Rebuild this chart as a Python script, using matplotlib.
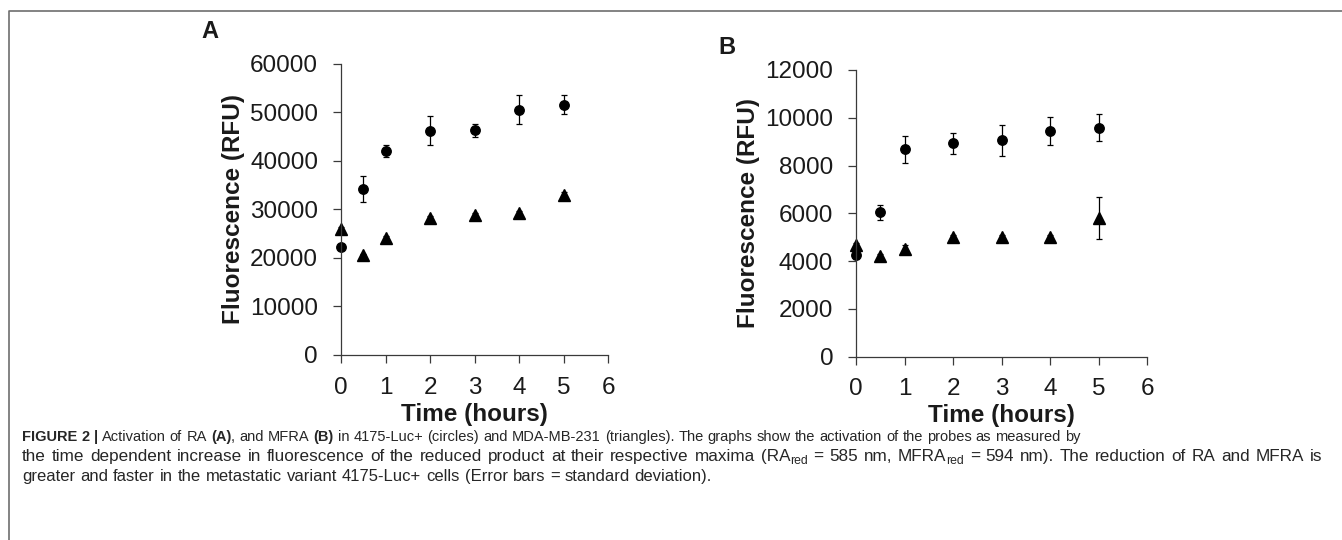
"""Fluorescence activation of RA / MFRA probes (Figure 2 recreation)."""

import matplotlib

matplotlib.use("Agg")
import matplotlib.pyplot as plt  # noqa: E402
from matplotlib import font_manager  # noqa: E402
from matplotlib.lines import Line2D  # noqa: E402

# ---- data ----
time_h = [0, 0.5, 1, 2, 3, 4, 5]

ra_circles = [22300, 34200, 42100, 46200, 46300, 50600, 51600]
ra_circles_sd = [600, 2700, 1200, 3000, 1400, 3000, 2000]
ra_triangles = [26000, 20600, 24200, 28200, 28900, 29200, 33000]
ra_triangles_sd = [300, 300, 400, 400, 400, 400, 700]

mfra_circles = [4250, 6040, 8680, 8930, 9060, 9460, 9590]
mfra_circles_sd = [150, 320, 560, 450, 650, 580, 560]
mfra_triangles = [4680, 4210, 4490, 5000, 5000, 5000, 5790]
mfra_triangles_sd = [80, 80, 200, 100, 100, 100, 880]

ra_yticks = [0, 10000, 20000, 30000, 40000, 50000, 60000]
mfra_yticks = [0, 2000, 4000, 6000, 8000, 10000, 12000]
x_ticks = [0, 1, 2, 3, 4, 5, 6]


def pick_font(names):
    for n in names:
        try:
            font_manager.findfont(n, fallback_to_default=False)
            return n
        except ValueError:
            continue
    return "DejaVu Sans"


SANS = pick_font(["Liberation Sans", "Arial", "DejaVu Sans"])
plt.rcParams["font.family"] = SANS

AX_COLOR = "#3a3a3a"
TXT = "#1a1a1a"


def panel(ax, circ, circ_sd, tri, tri_sd, yticks, ylim):
    ax.errorbar(time_h, circ, yerr=circ_sd, fmt="o", ms=6.8, color="black",
                ecolor="black", elinewidth=0.9, capsize=2.5, capthick=0.9)
    ax.errorbar(time_h, tri, yerr=tri_sd, fmt="^", ms=8.4, color="black",
                ecolor="black", elinewidth=0.9, capsize=2.5, capthick=0.9)
    ax.set_xlim(0, 6)
    ax.set_ylim(0, ylim)
    ax.set_xticks(x_ticks)
    ax.set_yticks(yticks)
    for s in ("top", "right"):
        ax.spines[s].set_visible(False)
    for s in ("left", "bottom"):
        ax.spines[s].set_color(AX_COLOR)
        ax.spines[s].set_linewidth(0.9)
    ax.tick_params(direction="out", length=5.5, width=0.9, color=AX_COLOR,
                   labelsize=17.5, labelcolor=TXT)
    ax.tick_params(axis="y", pad=11)
    ax.tick_params(axis="x", pad=10)
    ax.set_xlabel("Time (hours)", fontsize=17.5, fontweight="bold",
                  color=TXT, labelpad=3)
    ax.set_ylabel("Fluorescence (RFU)", fontsize=17.5, fontweight="bold",
                  color=TXT, labelpad=4)
    for artist in ax.get_children():
        artist.set_clip_on(False)


fig = plt.figure(figsize=(13.42, 5.40), dpi=100)

ax_a = fig.add_axes([0.2541, 0.3426, 0.1990, 0.5389])
panel(ax_a, ra_circles, ra_circles_sd, ra_triangles, ra_triangles_sd,
      ra_yticks, 60000)
ax_b = fig.add_axes([0.6379, 0.3394, 0.2168, 0.5310])
panel(ax_b, mfra_circles, mfra_circles_sd, mfra_triangles, mfra_triangles_sd,
      mfra_yticks, 12000)

fig.text(210 / 1342, 1 - 32 / 540, "A", fontsize=17, fontweight="bold",
         ha="center", va="center", color=TXT)
fig.text(727 / 1342, 1 - 47 / 540, "B", fontsize=17, fontweight="bold",
         ha="center", va="center", color=TXT)

# page frame (top and left rules)
fig.add_artist(Line2D([9 / 1342, 9 / 1342, 1.0], [0.0, 1 - 11 / 540, 1 - 11 / 540],
                      transform=fig.transFigure, color="#6e6e6e", lw=1.2))

# ---- caption, drawn word by word so each line can be stretched ----
renderer = fig.canvas.get_renderer()
CAP_COLOR = "#262626"


def measure(s, size, weight):
    t = fig.text(0, 0, s, fontsize=size, fontweight=weight)
    w = t.get_window_extent(renderer).width
    t.remove()
    return w


def caption_line(x_px, y_px, runs, size, target_px=None):
    # runs: (text, bold, subscript, space_before)
    space = measure("x x", size, "normal") - measure("xx", size, "normal")
    tokens = []
    for text, bold, sub, gap in runs:
        for i, word in enumerate(text.split(" ")):
            tokens.append((word, bold, sub, gap if i == 0 else True))
    widths = []
    for word, bold, sub, gap in tokens:
        s = size * (0.72 if sub else 1.0)
        widths.append(measure(word, s, "bold" if bold else "normal"))
    n_gaps = sum(1 for tok in tokens if tok[3])
    natural = sum(widths) + n_gaps * space
    extra = 0.0
    if target_px is not None and n_gaps:
        extra = max(0.0, (target_px - x_px - natural) / n_gaps)
    x = x_px
    for (word, bold, sub, gap), w in zip(tokens, widths):
        if gap:
            x += space + extra
        s = size * (0.72 if sub else 1.0)
        dy = -3 if sub else 0
        fig.text(x / 1342, 1 - (y_px - dy) / 540, word, fontsize=s,
                 fontweight="bold" if bold else "normal", color=CAP_COLOR,
                 va="baseline", ha="left")
        x += w


line1 = [
    ("FIGURE 2 |", True, False, False),
    ("Activation of RA", False, False, True),
    ("(A)", True, False, True),
    (", and MFRA", False, False, False),
    ("(B)", True, False, True),
    ("in 4175-Luc+ (circles) and MDA-MB-231 (triangles). The graphs show the "
     "activation of the probes as measured by", False, False, True),
]
line2 = [
    ("the time dependent increase in fluorescence of the reduced product at "
     "their respective maxima (RA", False, False, False),
    ("red", False, True, False),
    ("= 585 nm, MFRA", False, False, True),
    ("red", False, True, False),
    ("= 594 nm). The reduction of RA and MFRA is", False, False, True),
]
line3 = [
    ("greater and faster in the metastatic variant 4175-Luc+ cells "
     "(Error bars = standard deviation).", False, False, False),
]

caption_line(22, 441, line1, 10.5, 1080)
caption_line(22, 461, line2, 12.3, 1322)
caption_line(22, 481, line3, 12.0, 712)

fig.savefig("out.png", dpi=100)
